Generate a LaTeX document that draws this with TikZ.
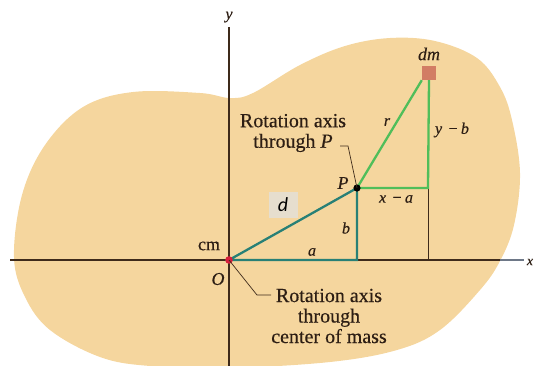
\documentclass[tikz,border=0pt]{standalone}
\usepackage{fontspec}
\setmainfont{Liberation Serif}[FakeBold=0.4]
\newfontfamily\dfont{Carlito}
\definecolor{blobc}{RGB}{245,214,158}
\definecolor{greenc}{RGB}{80,190,90}
\definecolor{tealc}{RGB}{40,128,118}
\definecolor{brownc}{RGB}{62,42,26}
\definecolor{textc}{RGB}{45,30,20}
\definecolor{axisgray}{RGB}{110,120,135}
\definecolor{dmc}{RGB}{210,125,100}
\definecolor{redc}{RGB}{215,30,60}
\definecolor{dboxc}{RGB}{230,222,206}
\begin{document}
\begin{tikzpicture}[x=1pt,y=-1pt,
  axisline/.style={draw=brownc,line width=1.2pt},
  leader/.style={draw=brownc,line width=0.7pt},
  greenline/.style={draw=greenc,line width=2.3pt},
  tealline/.style={draw=tealc,line width=2.3pt},
  lab/.style={inner sep=0pt,font=\fontsize{16}{18}\selectfont\itshape,text=textc},
  txt/.style={inner sep=0pt,align=center,font=\fontsize{20}{20.5}\selectfont,text=textc}]
\useasboundingbox (0,0) rectangle (536,365);
% body
\fill[blobc] plot[smooth cycle, tension=0.6] coordinates {
 (22,195) (45,145) (83,107) (133,92) (200,93) (230,98) (253,93) (300,65)
 (345,46) (390,38) (435,41) (477,58) (500,87) (512,120) (520,173) (514,225)
 (500,261) (480,290) (440,330) (397,350) (330,362) (229,368) (150,366)
 (100,357) (50,330) (25,297) (14,257)};
% points
\coordinate (O) at (229,260);
\coordinate (P) at (357,188);
\coordinate (Q) at (357,260);
\coordinate (R) at (428,188);
\coordinate (S) at (428,260);
\coordinate (xl) at (10,260);
\coordinate (xm) at (500,260);
\coordinate (xr) at (524,260);
\coordinate (yt) at (229,27);
\coordinate (yb) at (229,366);
% axes
\draw[axisline] (xl) -- (xm);
\draw[draw=axisgray,line width=1.2pt] (xm) -- (xr);
\draw[axisline] (yt) -- (yb);
\draw[draw=brownc,line width=1pt] (S) -- (R);
% dm element
\node[draw=none,fill=dmc,minimum size=14pt,inner sep=0pt] (dm) at (429,73) {};
% lines
\draw[tealline] (O) -- (Q) -- (P) -- cycle;
\draw[greenline] (P) -- (R) -- (dm.south);
\draw[greenline] (P) -- (dm.south west);
% dots
\fill[redc] (O) circle (3.8pt);
\fill[black] (P) circle (3.6pt);
% leaders
\coordinate (L1a) at (340,146);
\coordinate (L1b) at (348,146);
\draw[leader] (L1a) -- (L1b) -- (P);
\coordinate (L2a) at (257,295);
\coordinate (L2b) at (271,295);
\draw[leader] (O) -- (L2a) -- (L2b);
% labels
\node[lab] (ylab) at (229,17) {y};
\node[lab,font=\fontsize{14}{16}\selectfont\itshape] (xlab) at (530,262) {x};
\node[lab,font=\fontsize{18}{20}\selectfont\itshape] (dmlab) at (429,54) {dm};
\node[lab] (rlab) at (387,122) {r};
\node[lab] (yblab) at (452,130) {y\,\,−\,b};
\node[lab] (xalab) at (396,199) {x\,\,−\,a};
\node[lab,font=\fontsize{18}{20}\selectfont\itshape] (Plab) at (343,183) {P};
\node[lab] (blab) at (346,228) {b};
\node[lab] (alab) at (312,252) {a};
\node[lab,font=\fontsize{18}{20}\selectfont\upshape] (cmlab) at (209,246) {cm};
\node[lab,font=\fontsize{18}{20}\selectfont\itshape] (Olab) at (218,279) {O};
\node[txt] (t1) at (293,133) {Rotation axis\\through \textit{P}};
\node[txt] (t2) at (329,316) {Rotation axis\\through\\center of mass};
% d label
\node[fill=dboxc,minimum width=29pt,minimum height=26pt,inner sep=0pt,font=\fontsize{20}{22}\selectfont\dfont\itshape] (dlab) at (283,205) {d};
\end{tikzpicture}
\end{document}
